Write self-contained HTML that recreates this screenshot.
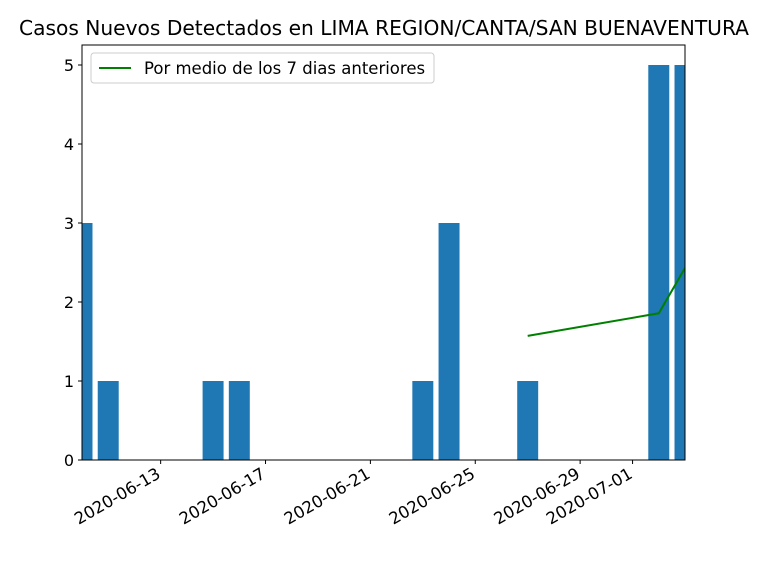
<!DOCTYPE html>
<html><head><meta charset="utf-8"><style>
body{margin:0;background:#fff;font-family:"DejaVu Sans","Liberation Sans",sans-serif}
</style></head><body>
<svg width="768" height="576" xmlns="http://www.w3.org/2000/svg">
<defs><clipPath id="pc"><rect x="82" y="45" width="603" height="415"/></clipPath></defs>
<rect width="768" height="576" fill="#fff"/>
<text x="384" y="35" text-anchor="middle" font-size="20.2">Casos Nuevos Detectados en LIMA REGION/CANTA/SAN BUENAVENTURA</text>
<g id="bars" clip-path="url(#pc)"></g>
<g id="line" clip-path="url(#pc)"></g>
<g id="axes"></g>
<g>
<rect x="91" y="53" width="343" height="30" fill="#fff" stroke="#ccc" rx="3"/>
<line x1="99" y1="68" x2="131" y2="68" stroke="green" stroke-width="2"/>
<text x="144" y="74" font-size="16.5">Por medio de los 7 dias anteriores</text>
</g>
</svg>
<script>
const barDates=["2020-06-10","2020-06-11","2020-06-15","2020-06-16","2020-06-23","2020-06-24","2020-06-27","2020-07-02","2020-07-03"];
const barValues=[3,1,1,1,1,3,1,5,5];
const lineDates=["2020-06-27","2020-07-02","2020-07-03"];
const lineValues=[1.571,1.857,2.43];
const yTicks=[0,1,2,3,4,5];
const xTicks=["2020-06-13","2020-06-17","2020-06-21","2020-06-25","2020-06-29","2020-07-01"];
const NS="http://www.w3.org/2000/svg";
const X0=82,X1=685,Y0=460,Y1=45;
const d0=Date.parse("2020-06-10"),d1=Date.parse("2020-07-03");
const dayPx=(X1-X0)/((d1-d0)/864e5);
function xs(d){return X0+(Date.parse(d)-d0)/864e5*dayPx;}
function ys(v){return Y0-v*79;}
function mk(t,a,p){const e=document.createElementNS(NS,t);for(const k in a)e.setAttribute(k,a[k]);p.appendChild(e);return e;}
const bg=document.getElementById('bars');
barDates.forEach((d,i)=>{const r=mk('rect',{x:xs(d)-0.4*dayPx,y:ys(barValues[i]),width:0.8*dayPx,height:Y0-ys(barValues[i]),fill:'#1f77b4'},bg);

});
const lg=document.getElementById('line');
const pl=mk('polyline',{points:lineDates.map((d,i)=>xs(d)+','+ys(lineValues[i])).join(' '),fill:'none',stroke:'green','stroke-width':2},lg);


const ax=document.getElementById('axes');
mk('rect',{x:X0,y:Y1,width:X1-X0,height:Y0-Y1,fill:'none',stroke:'#000','stroke-width':1},ax);
yTicks.forEach(v=>{const y=ys(v);mk('line',{x1:X0-4,x2:X0,y1:y,y2:y,stroke:'#000'},ax);
const t=mk('text',{x:X0-8,y:y+6,'text-anchor':'end','font-size':16},ax);t.textContent=v;

});
xTicks.forEach(d=>{const x=xs(d);mk('line',{x1:x,x2:x,y1:Y0,y2:Y0+4,stroke:'#000'},ax);
const t=mk('text',{x:x+1,y:Y0+17,'text-anchor':'end','font-size':16.5,transform:`rotate(-30 ${x+1} ${Y0+17})`},ax);t.textContent=d;

});
</script>
</body></html>
